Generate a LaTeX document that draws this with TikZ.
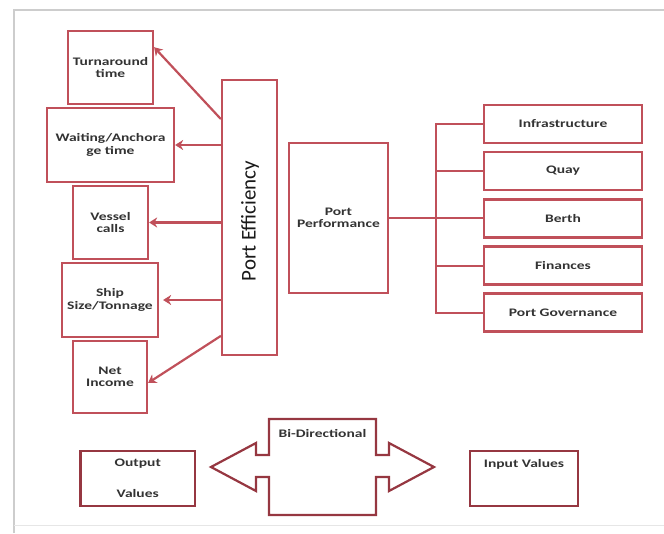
\documentclass[tikz,border=0pt]{standalone}
\usepackage{fontspec}
\newfontfamily\lblfont[FakeStretch=1.35]{Carlito}
\newfontfamily\efffont{Carlito}
\usetikzlibrary{arrows.meta,calc}
\definecolor{boxred}{RGB}{192,80,90}
\definecolor{darkred}{RGB}{150,55,65}
\definecolor{framegray}{RGB}{205,205,205}
\tikzset{
	lbl/.style={text=black!80, inner sep=0pt, align=center, font=\lblfont\bfseries\fontsize{11.5}{12.5}\selectfont},
	box/.style={lbl, draw=boxred, line width=2.2pt, fill=white},
	botbox/.style={box, draw=darkred},
	effarrow/.style={draw=boxred, line width=2.2pt, -{Stealth[length=8pt,width=10pt,inset=2.5pt]}},
	busline/.style={draw=boxred, line width=2pt},
}

\begin{document}
\begin{tikzpicture}[x=1pt,y=-1pt]
			%%%%% START %%%%%
			\useasboundingbox (0,0) rectangle (664,533);
			
			% frame
			\draw[framegray, line width=1.5pt] (14,533) -- (14,10) -- (664,10);
			\draw[framegray!50, line width=1pt] (14,525) -- (664,525);
			
			% left column
			\node[box, minimum width=85pt, minimum height=73pt] (turn) at (110.5,67.5) {Turnaround\\time};
			\node[box, minimum width=127pt, minimum height=74pt] (wait) at (110.5,145) {Waiting/Anchora\\ge time};
			\node[box, minimum width=75pt, minimum height=73pt] (vessel) at (110.5,222.5) {Vessel\\calls};
			\node[box, minimum width=96pt, minimum height=74pt] (ship) at (110,300) {Ship\\Size/Tonnage};
			\node[box, minimum width=74pt, minimum height=72pt] (net) at (110,377) {Net\\Income};
			
			% port efficiency
			\node[box, minimum width=55pt, minimum height=275pt] (eff) at (249.5,217.5) {};
			\node[rotate=90, inner sep=0pt, text=black!90, font=\efffont\fontsize{21}{21}\selectfont] (efftext) at (250,221) {Port Efficiency};
			
			\draw[effarrow] ($(eff.north west)!0.145!(eff.south west)$) -- ($(turn.north east)!0.23!(turn.south east)$);
			\draw[effarrow] (eff.west |- wait.east) -- (wait.east);
			\draw[effarrow] (eff.west |- vessel.east) -- (vessel.east);
			\draw[effarrow] (eff.west |- ship.east) -- ([xshift=4pt]ship.east);
			\draw[effarrow] ($(eff.north west)!0.927!(eff.south west)$) -- ($(net.north east)!0.58!(net.south east)$);
			
			% port performance
			\node[box, minimum width=99pt, minimum height=150pt] (perf) at (338.5,218) {Port\\Performance};
			
			\node[box, minimum width=158pt, minimum height=38pt] (infra) at (563,124) {Infrastructure};
			\node[box, minimum width=158pt, minimum height=38pt] (quay) at (563,171) {Quay};
			\node[box, minimum width=158pt, minimum height=38pt] (berth) at (563,218.5) {Berth};
			\node[box, minimum width=158pt, minimum height=38pt] (fin) at (563,265.5) {Finances};
			\node[box, minimum width=158pt, minimum height=38pt] (gov) at (563,312.5) {Port Governance};
			
			\coordinate (bus) at (436,218);
			\draw[busline] (perf.east) -- (perf.east -| berth.west);
			\draw[busline] (infra.west) -- (infra.west -| bus) -- (gov.west -| bus) -- (gov.west);
			\draw[busline] (quay.west -| bus) -- (quay.west);
			\draw[busline] (fin.west -| bus) -- (fin.west);
			
			% bottom
			\node[botbox, minimum width=114.5pt, minimum height=55pt] (out) at (137.75,478.5) {Output\\[19pt]Values};
			\node[botbox, minimum width=108pt, minimum height=55pt] (inp) at (524,478.5) {};
			\node[lbl] (inplbl) at (524,464) {Input Values};
			
			\draw[darkred, line width=2.2pt] (269,419) -- (376,419) -- (376,455) -- (389,455) -- (389,443) -- (434,467) -- (389,491) -- (389,477) -- (376,477) -- (376,515) -- (269,515) -- (269,477) -- (256,477) -- (256,491) -- (211,467) -- (256,443) -- (256,455) -- (269,455) -- cycle;
			\node[lbl] (bidir) at (322.5,433) {Bi-Directional};
			
			%%%%% END %%%%%
\end{tikzpicture}
\end{document}
